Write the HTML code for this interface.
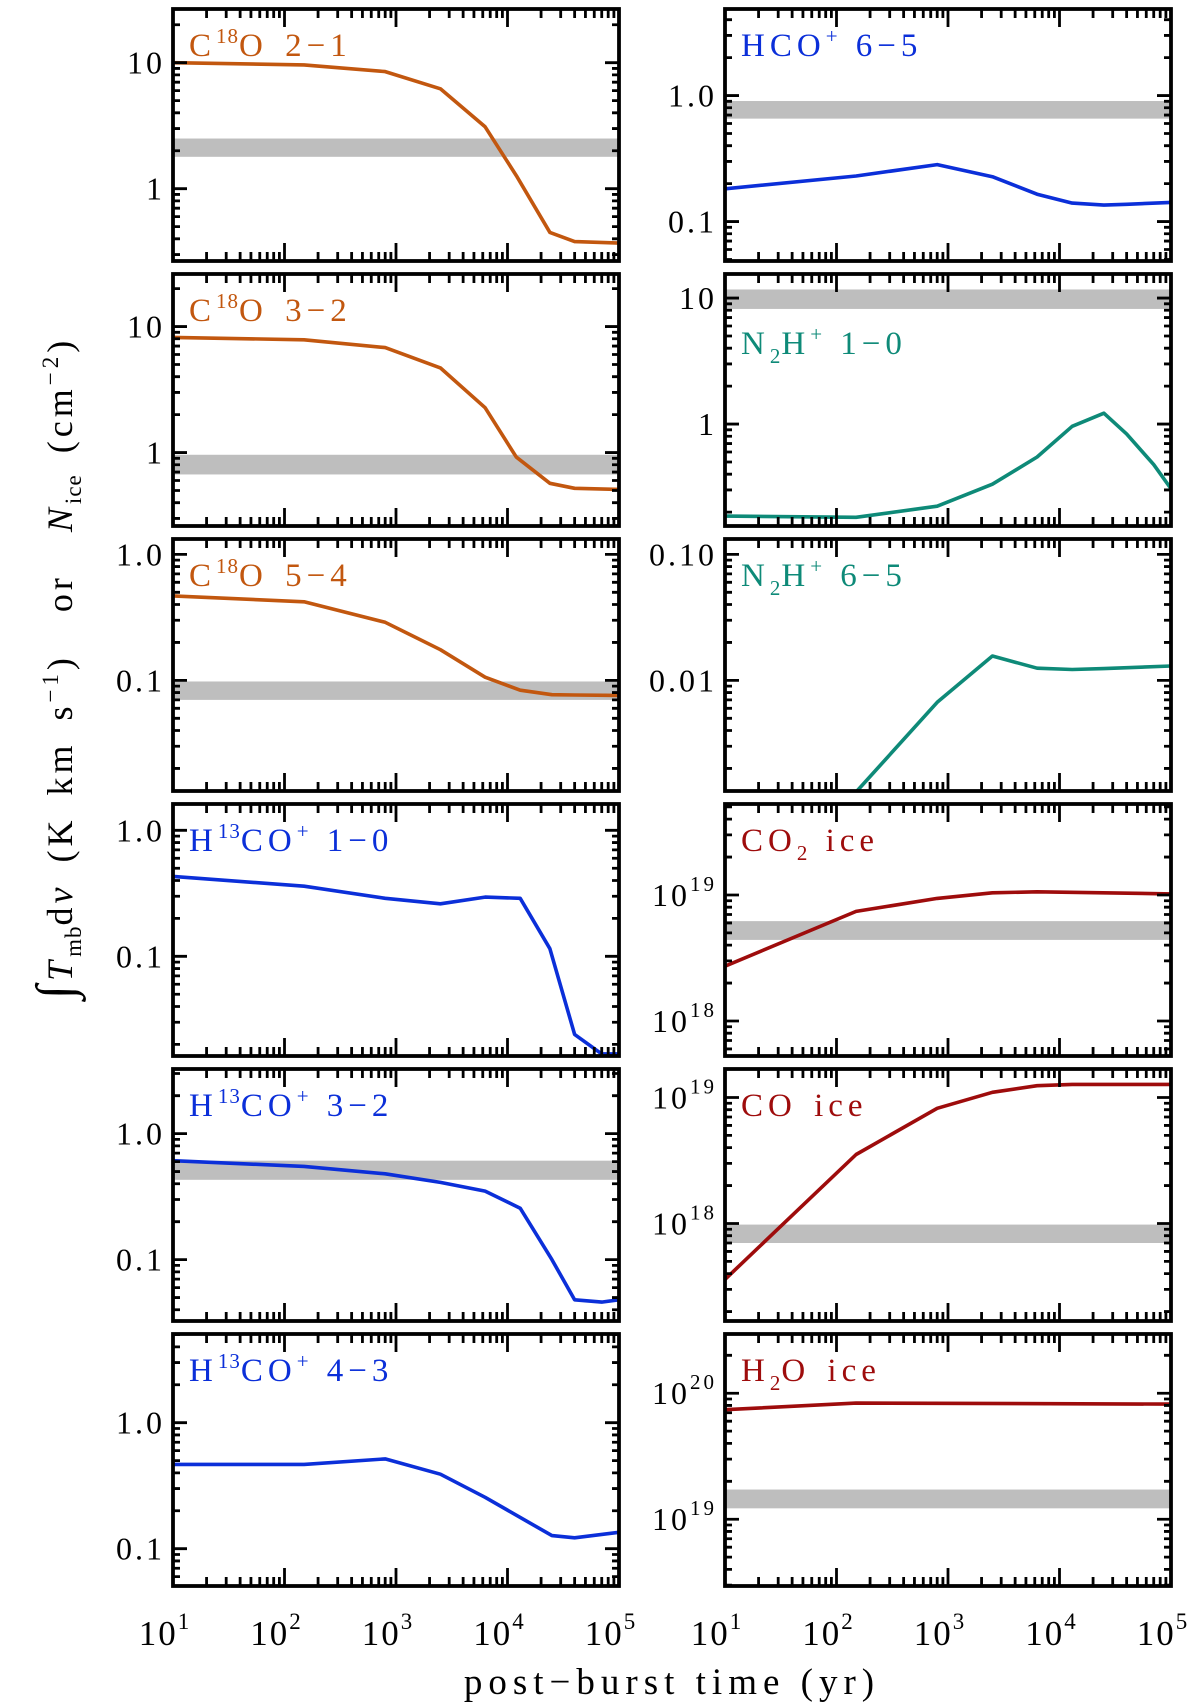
<!DOCTYPE html>
<html><head><meta charset="utf-8"><style>
html,body{margin:0;padding:0;background:#fff;}
svg{display:block;}
text{font-family:"Liberation Serif",serif;}
</style></head><body>
<svg id="fig" width="1200" height="1707" viewBox="0 0 1200 1707" xmlns="http://www.w3.org/2000/svg"></svg>
<script>
// ---- data ----
const p1Times=[10,150,800,2500,6300,12000,24000,40000,100000];
const p1Values=[10,9.6,8.5,6.2,3.1,1.27,0.45,0.38,0.37];
const p2Times=[10,150,800,2500,6300,13000,25000,40000,100000];
const p2Values=[0.182,0.23,0.283,0.227,0.165,0.14,0.135,0.137,0.142];
const p3Times=[10,150,800,2500,6300,12000,24000,40000,100000];
const p3Values=[8.2,7.85,6.8,4.7,2.27,0.92,0.57,0.52,0.51];
const p4Times=[10,150,800,2500,6300,13000,25000,40000,70000,100000];
const p4Values=[0.186,0.182,0.223,0.333,0.548,0.96,1.22,0.835,0.477,0.307];
const p5Times=[10,150,800,2500,6300,13000,25000,40000,100000];
const p5Values=[0.468,0.42,0.289,0.175,0.106,0.0836,0.077,0.0765,0.076];
const p6Times=[10,150,800,2500,6300,13000,25000,100000];
const p6Values=[0.0003,0.0013,0.0067,0.0156,0.0125,0.0122,0.0124,0.013];
const p7Times=[10,150,800,2500,6300,13000,24000,40000,70000,100000];
const p7Values=[0.431,0.36,0.289,0.261,0.295,0.289,0.115,0.024,0.0168,0.0168];
const p8Times=[10,150,800,2500,6300,100000];
const p8Values=[2.72e18,7.4e18,9.4e18,1.04e19,1.06e19,1.02e19];
const p9Times=[10,150,800,2500,6300,13000,25000,40000,70000,100000];
const p9Values=[0.61,0.55,0.48,0.41,0.35,0.256,0.1,0.048,0.046,0.048];
const p10Times=[10,150,800,2500,6300,13000,100000];
const p10Values=[3.6e17,3.53e18,8.2e18,1.1e19,1.24e19,1.27e19,1.27e19];
const p11Times=[10,150,800,2500,6300,25000,40000,100000];
const p11Values=[0.467,0.467,0.516,0.39,0.256,0.127,0.122,0.135];
const p12Times=[10,150,100000];
const p12Values=[7.4e19,8.35e19,8.2e19];
const bandLow=[1.79,0.656,0.67,8.2,0.070,null,null,4.4e18,0.43,7e17,1.22e19];
const bandHigh=[2.5,0.905,0.96,11.7,0.098,null,null,6.2e18,0.61,9.8e17,1.72e19];
const xTickLabels=["1","2","3","4","5"];

// ---- layout ----
const NS="http://www.w3.org/2000/svg";
const svg=document.getElementById('fig');
const colX=[173,725], W=446, H=252;
const rowY=[9,274,539,804,1069,1334];
const ORANGE="#c2570f", BLUE="#0b2fd9", TEAL="#0e8a78", RED="#9e0c0c";
function el(tag,attrs,parent){const e=document.createElementNS(NS,tag);for(const k in attrs)e.setAttribute(k,attrs[k]);(parent||svg).appendChild(e);return e;}

const panels=[
 {t:p1Times,v:p1Values,ymax:1.426,b:0,c:ORANGE,lab:[["C",""],["18","sup"],["O 2\u22121",""]],ly:47,ticks:[[10,"10"],[1,"1"]],name:"c18o-2-1"},
 {t:p2Times,v:p2Values,ymax:0.687,b:1,c:BLUE,lab:[["HCO",""],["+","sup"],[" 6\u22125",""]],ly:47,ticks:[[1,"1.0"],[0.1,"0.1"]],name:"hco-6-5"},
 {t:p3Times,v:p3Values,ymax:1.417,b:2,c:ORANGE,lab:[["C",""],["18","sup"],["O 3\u22122",""]],ly:47,ticks:[[10,"10"],[1,"1"]],name:"c18o-3-2"},
 {t:p4Times,v:p4Values,ymax:1.191,b:3,c:TEAL,lab:[["N",""],["2","sub"],["H",""],["+","sup"],[" 1\u22120",""]],ly:80,ticks:[[10,"10"],[1,"1"]],name:"n2h-1-0"},
 {t:p5Times,v:p5Values,ymax:0.122,b:4,c:ORANGE,lab:[["C",""],["18","sup"],["O 5\u22124",""]],ly:47,ticks:[[1,"1.0"],[0.1,"0.1"]],name:"c18o-5-4"},
 {t:p6Times,v:p6Values,ymax:-0.878,b:5,c:TEAL,lab:[["N",""],["2","sub"],["H",""],["+","sup"],[" 6\u22125",""]],ly:47,ticks:[[0.1,"0.10"],[0.01,"0.01"]],name:"n2h-6-5"},
 {t:p7Times,v:p7Values,ymax:0.209,b:6,c:BLUE,lab:[["H",""],["13","sup"],["CO",""],["+","sup"],[" 1\u22120",""]],ly:47,ticks:[[1,"1.0"],[0.1,"0.1"]],name:"h13co-1-0"},
 {t:p8Times,v:p8Values,ymax:19.722,b:7,c:RED,lab:[["CO",""],["2","sub"],[" ice",""]],ly:47,ticks:[[1e19,"19"],[1e18,"18"]],exp:true,name:"co2-ice"},
 {t:p9Times,v:p9Values,ymax:0.513,b:8,c:BLUE,lab:[["H",""],["13","sup"],["CO",""],["+","sup"],[" 3\u22122",""]],ly:47,ticks:[[1,"1.0"],[0.1,"0.1"]],name:"h13co-3-2"},
 {t:p10Times,v:p10Values,ymax:19.226,b:9,c:RED,lab:[["CO ice",""]],ly:47,ticks:[[1e19,"19"],[1e18,"18"]],exp:true,name:"co-ice"},
 {t:p11Times,v:p11Values,ymax:0.704,b:null,c:BLUE,lab:[["H",""],["13","sup"],["CO",""],["+","sup"],[" 4\u22123",""]],ly:47,ticks:[[1,"1.0"],[0.1,"0.1"]],name:"h13co-4-3"},
 {t:p12Times,v:p12Values,ymax:20.47,b:10,c:RED,lab:[["H",""],["2","sub"],["O ice",""]],ly:47,ticks:[[1e20,"20"],[1e19,"19"]],exp:true,name:"h2o-ice"}
];

panels.forEach((p,i)=>{
  const x0=colX[i%2], y0=rowY[Math.floor(i/2)];
  const xs=t=>x0+(Math.log10(t)-1)/4*W;
  const ys=v=>y0+(p.ymax-Math.log10(v))/2*H;
  const g=el('g',{});
  
  
  const cid='clip'+i;
  const cp=el('clipPath',{id:cid},g); el('rect',{x:x0,y:y0,width:W,height:H},cp);
  if(p.b!==null){
    const lo=bandLow[p.b], hi=bandHigh[p.b];
    const r=el('rect',{x:x0,y:ys(hi),width:W,height:ys(lo)-ys(hi),fill:"#bebebe","clip-path":"url(#"+cid+")"},g);
    
    
  }
  const pts=p.t.map((t,k)=>xs(t).toFixed(1)+","+ys(p.v[k]).toFixed(1)).join(" ");
  const pl=el('polyline',{points:pts,fill:"none",stroke:p.c,"stroke-width":3.6,"stroke-linejoin":"round","clip-path":"url(#"+cid+")"},g);
  
  
  let tk="";
  for(let d=1;d<=5;d++){for(let m=1;m<=9;m++){const lv=d+Math.log10(m); if(lv>5.0001)break; if(d===1&&m===1)continue; const x=x0+(lv-1)/4*W; const L=(m===1)?18:9; tk+=`M${x},${y0}v${L}M${x},${y0+H}v${-L}`;}}
  const ylo=p.ymax-2;
  for(let d=Math.floor(ylo);d<=Math.ceil(p.ymax);d++){for(let m=1;m<=9;m++){const lv=d+Math.log10(m); if(lv<ylo||lv>p.ymax)continue; const y=y0+(p.ymax-lv)/2*H; const L=(m===1)?14:7; tk+=`M${x0},${y}h${L}M${x0+W},${y}h${-L}`;}}
  el('path',{d:tk,stroke:"#000","stroke-width":2.8,fill:"none"},g);
  const fr=el('rect',{x:x0,y:y0,width:W,height:H,fill:"none",stroke:"#000","stroke-width":3.8},g);
  
  
  p.ticks.forEach(([v,s])=>{
    const y=ys(v);
    const tx=el('text',{x:x0-8,y:y+11,"font-size":32,"text-anchor":"end",fill:"#000","letter-spacing":3},g);
    
    
    if(p.exp){const a=el('tspan',{},tx);a.textContent="10";const b=el('tspan',{dy:-15,"font-size":21},tx);b.textContent=s;}
    else tx.textContent=s;
  });
  const lt=el('text',{x:x0+16,y:y0+p.ly,"font-size":33,fill:p.c,"letter-spacing":5,"word-spacing":4},g);
  
  
  lt.style.whiteSpace="pre";
  let shift=0;
  p.lab.forEach(([s,k])=>{
    const a={};
    if(k==="sup"){a.dy=-13-shift;a["font-size"]=21;a["letter-spacing"]=1;shift=-13;}
    else if(k==="sub"){a.dy=9-shift;a["font-size"]=21;a["letter-spacing"]=1;shift=9;}
    else {a.dy=-shift;shift=0;}
    const ts=el('tspan',a,lt); ts.textContent=s;
  });
  if(Math.floor(i/2)===5){
    xTickLabels.forEach((s,k)=>{
      const x=x0+k/4*W;
      const tx=el('text',{x:x-8,y:1645,"font-size":35,"text-anchor":"middle",fill:"#000","letter-spacing":2},g);
      
      
      const a=el('tspan',{},tx);a.textContent="10";const b=el('tspan',{dy:-16,"font-size":23},tx);b.textContent=s;
    });
  }
});

const xt=el('text',{x:672,y:1694,"font-size":37,"text-anchor":"middle",fill:"#000","letter-spacing":6});


xt.textContent="post\u2212burst time (yr)";

const yt=el('text',{x:0,y:0,"font-size":36,"text-anchor":"middle",fill:"#000","letter-spacing":4,"word-spacing":8,transform:"translate(72,668) rotate(-90)"});


yt.style.whiteSpace="pre";
yt.innerHTML='<tspan font-size="52">\u222B</tspan><tspan font-style="italic">T</tspan><tspan font-size="23" dy="9" letter-spacing="1">mb</tspan><tspan dy="-9">d</tspan><tspan font-style="italic">v</tspan> (K km s<tspan font-size="23" dy="-14">\u22121</tspan><tspan dy="14">)  or  </tspan><tspan font-style="italic">N</tspan><tspan font-size="23" dy="9" letter-spacing="1">ice</tspan><tspan dy="-9"> (cm</tspan><tspan font-size="23" dy="-14">\u22122</tspan><tspan dy="14">)</tspan>';
</script>
</body></html>
